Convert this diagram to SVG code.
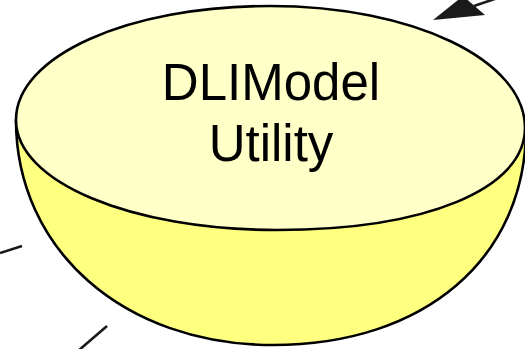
<svg xmlns="http://www.w3.org/2000/svg" width="525" height="349" viewBox="0 0 525 349">
  <style>
    .outline { stroke: #000000; stroke-width: 2.6; stroke-linejoin: round; }
    .bowl { fill: #FFFF80; }
    .rim { fill: #FFFFC8; }
    .label { font-family: "Liberation Sans", Arial, sans-serif; font-size: 51px; fill: #000000; text-anchor: middle; }
    .link { stroke: #1a1a1a; stroke-width: 2.6; fill: none; }
  </style>
  <rect width="525" height="349" fill="#ffffff"/>

  <g id="connectors">
    <line class="link" x1="0" y1="253" x2="22" y2="246"/>
    <line class="link" x1="78" y1="351" x2="107" y2="326"/>
    <line class="link" x1="530" y1="-13" x2="474" y2="6"/>
    <polygon points="433,20 463,-4 485,15" fill="#1a1a1a"/>
  </g>

  <g id="dlimodel-utility">
    <path class="bowl outline" d="M16,120 C16,250 124,345 273,345 C425,345 526,258 526,128 Z"/>
    <path class="rim outline" d="M270,6 C413,6 525,60 525,128 C525,189 426,230 277,230 C131,230 16,182 16,120 C16,56 128,6 270,6 Z"/>
    <text class="label" x="271" y="100">DLIModel</text>
    <text class="label" x="271" y="161">Utility</text>
  </g>
</svg>
